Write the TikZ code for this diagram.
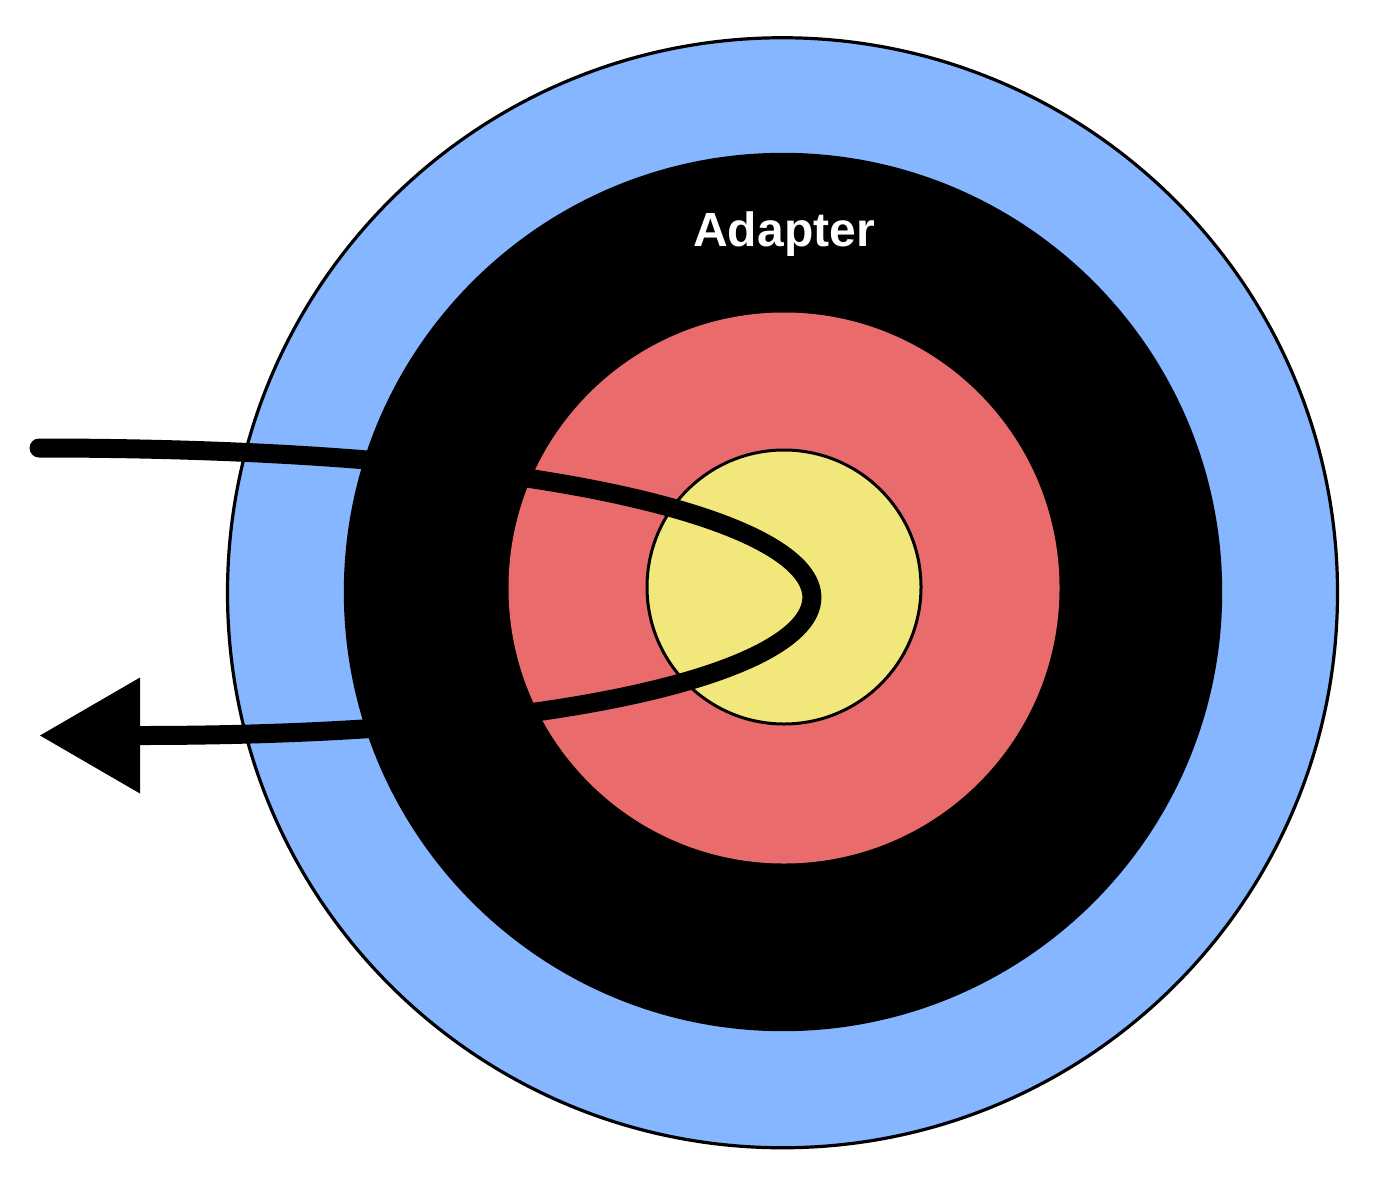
\documentclass[tikz,border=0pt]{standalone}
\usepackage{fontspec}
\setmainfont{Liberation Sans}
\usepackage{tikz}
\usetikzlibrary{arrows.meta, positioning}
\definecolor{ringblue}{RGB}{133,182,255}
\definecolor{ringred}{RGB}{234,107,107}
\definecolor{ringyellow}{RGB}{242,231,122}

\begin{document}
\begin{tikzpicture}[
    x=0.5pt, y=-0.5pt,
    ring/.style={circle, draw, inner sep=0pt, outer sep=0pt},
    flow/.style={line width=9.5pt, line cap=round, -{Triangle[length=50pt, width=58pt, line width=0pt]}}
]
    \useasboundingbox (0,0) rectangle (1384,1188);

    % Target rings
    \node[ring, fill=ringblue, line width=1.6pt, minimum size=555pt] (outer) at (782.5,592.75) {};
    \node[ring, fill=black, draw=none, minimum size=439.2pt] (adapter) at (783,592) {};
    \node[ring, fill=ringred, draw=none, minimum size=275.5pt] (inner) at (784,588) {};
    \node[ring, fill=ringyellow, line width=1.5pt, minimum size=137pt] (core) at (784,587) {};

    % Label
    \node[anchor=base, text=white, font=\bfseries\fontsize{24}{29}\selectfont] (label) at (784,246) {Adapter};

    % Request path
    \coordinate (in) at (39,448);
    \coordinate (out) at (40,735.5);
    \draw[flow] (in) .. controls (1052,448) and (1052,735.5) .. (out);
\end{tikzpicture}
\end{document}
